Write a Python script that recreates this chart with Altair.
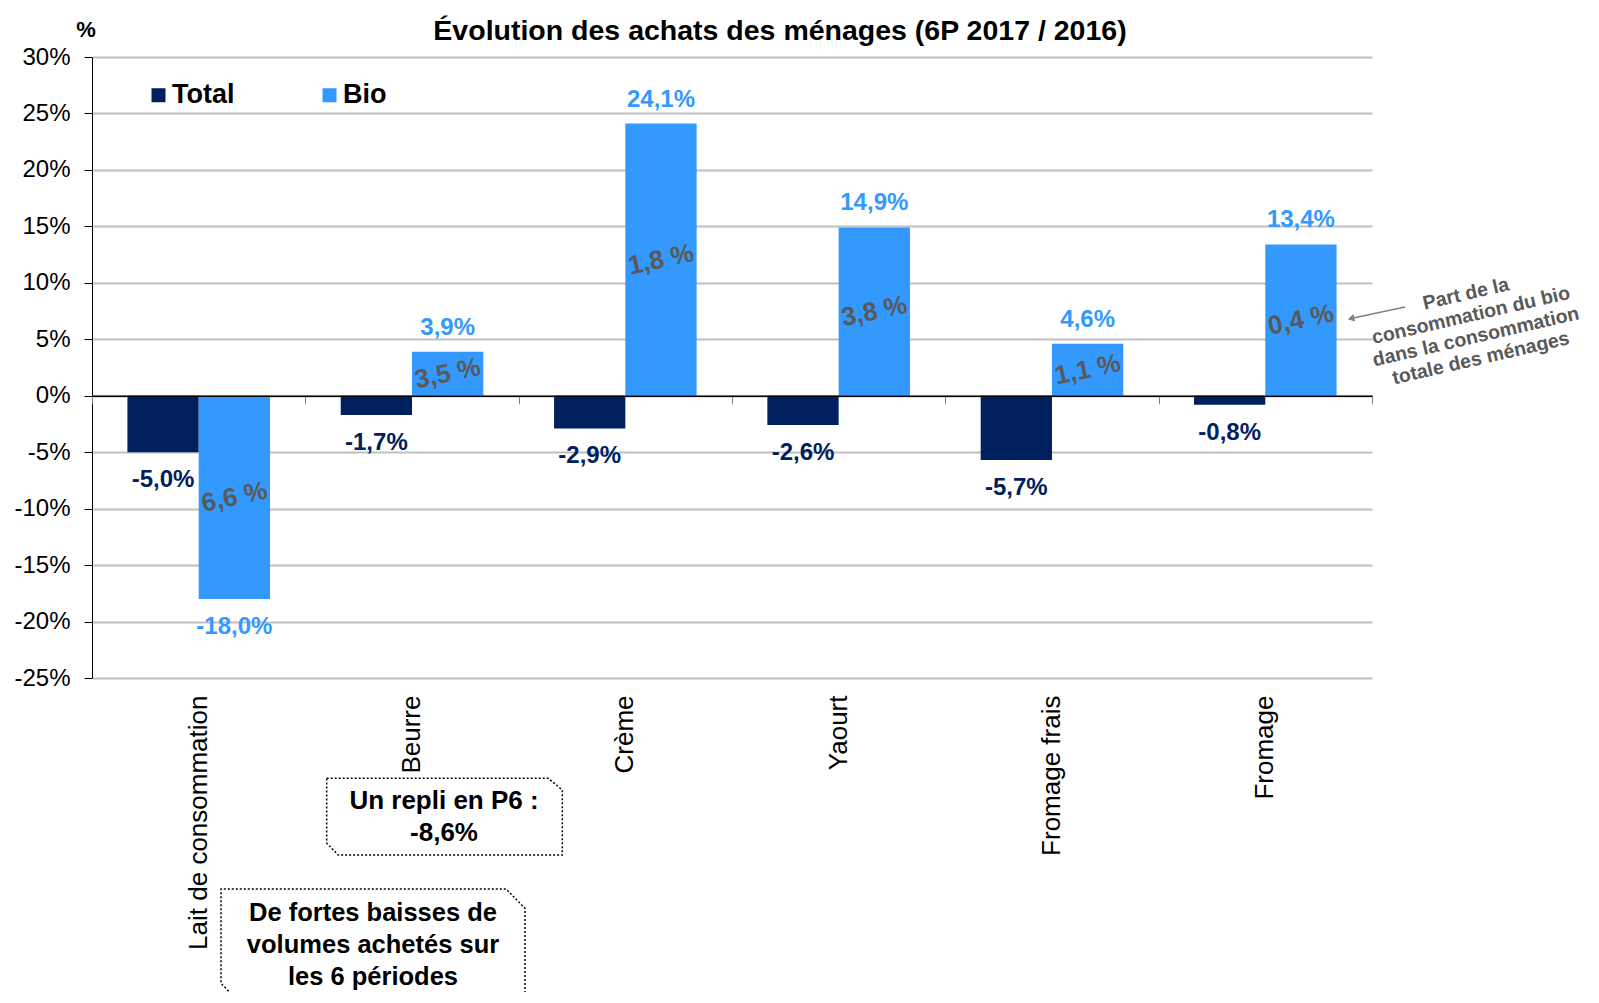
import altair as alt
import pandas as pd

# ---------------- data ----------------
categories = ["Lait de consommation", "Beurre", "Crème", "Yaourt", "Fromage frais", "Fromage"]
series = ["Total", "Bio"]
total_values = [-5.0, -1.7, -2.9, -2.6, -5.7, -0.8]
bio_values = [-18.0, 3.9, 24.1, 14.9, 4.6, 13.4]
bio_share = ["6,6 %", "3,5 %", "1,8 %", "3,8 %", "1,1 %", "0,4 %"]
y_ticks = [-25, -20, -15, -10, -5, 0, 5, 10, 15, 20, 25, 30]
boundaries = [0, 1, 2, 3, 4, 5, 6]

title_text = "Évolution des achats des ménages (6P 2017 / 2016)"
note_right = ["Part de la", "consommation du bio", "dans la consommation", "totale des ménages"]
note_beurre = ["Un repli en P6 :", "-8,6%"]
note_lait = ["De fortes baisses de", "volumes achetés sur", "les 6 périodes"]

colors = ["#002060", "#3399FF"]

W, H = 1280, 621
FONT = "Liberation Sans"

df = pd.DataFrame({
    "cat": categories * 2,
    "series": ["Total"] * len(categories) + ["Bio"] * len(categories),
    "value": total_values + bio_values,
})
df["label"] = df["value"].map(lambda v: f"{v:.1f}".replace(".", ",") + "%")

share_df = pd.DataFrame({"cat": categories, "series": "Bio", "value": bio_values, "share": bio_share})

# ---------------- shared encodings ----------------
x_axis = alt.Axis(
    title=None, domain=False, ticks=False, grid=False,
    labelAngle=270, labelAlign="right", labelBaseline="middle", labelLimit=500,
    labelFont=FONT, labelFontSize=26, labelColor="black", labelPadding=17,
)
y_axis = alt.Axis(
    title=None, values=y_ticks, labelExpr="datum.value + '%'",
    labelFont=FONT, labelFontSize=24, labelColor="black", labelPadding=14,
    domain=True, domainColor="black", domainWidth=1,
    ticks=True, tickColor="black", tickSize=8, tickWidth=1,
    grid=True, gridColor="#C0C0C0", gridWidth=2,
)
x_scale = alt.Scale(paddingInner=0.3315, paddingOuter=0.166)
y_scale = alt.Scale(domain=[-25, 30], nice=False, zero=False)
color_scale = alt.Scale(domain=series, range=colors)
legend = alt.Legend(
    title=None, orient="none", direction="horizontal", legendX=53, legendY=24.5,
    symbolType="square", symbolSize=196, symbolStrokeWidth=0, symbolOpacity=1,
    labelFont=FONT, labelFontSize=27, labelFontWeight="bold", labelColor="black",
    labelOffset=0, columnPadding=81, padding=0,
)

X = alt.X("cat:N", sort=categories, scale=x_scale, axis=x_axis)
XO = alt.XOffset("series:N", sort=series, scale=alt.Scale(domain=series))
C = alt.Color("series:N", scale=color_scale, legend=legend)

bars = alt.Chart(df).mark_bar().encode(
    x=X, xOffset=XO,
    y=alt.Y("value:Q", scale=y_scale, axis=y_axis),
    color=C,
)

labels_pos = alt.Chart(df).transform_filter("datum.value > 0").mark_text(
    font=FONT, fontSize=24, fontWeight="bold", dy=-24, baseline="middle"
).encode(
    x=X, xOffset=XO,
    y=alt.Y("value:Q", scale=y_scale, axis=y_axis),
    text="label:N", color=C,
)
labels_neg = alt.Chart(df).transform_filter("datum.value < 0").mark_text(
    font=FONT, fontSize=24, fontWeight="bold", dy=28, baseline="middle"
).encode(
    x=X, xOffset=XO,
    y=alt.Y("value:Q", scale=y_scale, axis=y_axis),
    text="label:N", color=C,
)
shares = alt.Chart(share_df).transform_calculate(mid="datum.value / 2").mark_text(
    font=FONT, fontSize=26, fontWeight="bold", color="#595959", angle=348, baseline="middle"
).encode(
    x=X, xOffset=XO,
    y=alt.Y("mid:Q", scale=y_scale, axis=y_axis),
    text="share:N",
)

main = alt.layer(bars, labels_pos, labels_neg, shares)

# zero line with category separators (second, independent x axis)
zero_axis = alt.Chart(pd.DataFrame({"b": boundaries})).mark_point(opacity=0).encode(
    x=alt.X("b:Q", scale=alt.Scale(domain=[0, 6], nice=False, zero=False),
            axis=alt.Axis(orient="bottom", offset=-H * 25 / 55, values=boundaries, labels=False,
                          grid=False, title=None, domainColor="black", domainWidth=1.5,
                          tickColor="#808080", tickSize=8, tickWidth=1, zindex=2)),
    y=alt.value(0),
)

# ---------------- annotations ----------------
box_df = pd.DataFrame({
    "box": ["b1"] * 7 + ["b2"] * 6,
    "ord": list(range(7)) + list(range(6)),
    "px": [234.7, 456.3, 470.3, 470.3, 246.3, 234.7, 234.7,
           433, 433, 414, 129, 129, 148],
    "py": [721.3, 721.3, 733, 798, 798, 786.3, 721.3,
           960, 851.3, 832, 832, 926.3, 946],
})
boxes = alt.Chart(box_df).mark_line(color="black", strokeDash=[2, 2], strokeWidth=1.5).encode(
    x=alt.X("px:Q", scale=None, axis=None),
    y=alt.Y("py:Q", scale=None, axis=None),
    detail="box:N", order="ord:Q",
)

def txt(lines, x, y, size, color="black", angle=0, lh=None, weight="bold", align="center"):
    kw = dict(text=lines, font=FONT, fontSize=size, fontWeight=weight, color=color,
              align=align, baseline="middle")
    if angle:
        kw["angle"] = angle
    if lh:
        kw["lineHeight"] = lh
    return alt.Chart().mark_text(**kw).encode(x=alt.value(x), y=alt.value(y))

title = txt(title_text, 688, -26.5, 28.5)
unit = txt("%", -6, -27, 22)
beurre_note = txt(note_beurre, 352, 743.6, 26, lh=32.6)
lait_note = txt(note_lait, 281, 856, 25.5, lh=32.2)
right_note = txt(note_right, 1374, 237, 19.5, color="#595959", angle=347, lh=22)

arrow_line = alt.Chart().mark_rule(color="#808080", strokeWidth=1.5).encode(
    x=alt.value(1313), y=alt.value(250), x2=alt.value(1259), y2=alt.value(261.5)
)
arrow_head = alt.Chart().mark_point(shape="triangle-left", angle=348, filled=True,
                                     color="#808080", size=60, opacity=1).encode(
    x=alt.value(1259), y=alt.value(261.5)
)

chart = alt.layer(
    main, zero_axis, boxes, title, unit, beurre_note, lait_note, right_note, arrow_line, arrow_head
).resolve_scale(x="independent", y="independent").properties(
    width=W, height=H,
    autosize=alt.AutoSizeParams(type="none"),
    padding={"left": 84, "top": 49, "right": 219, "bottom": 314},
    background="white",
).configure_view(stroke=None)

chart.save("out.html", embed_options={"renderer": "svg", "actions": False})
